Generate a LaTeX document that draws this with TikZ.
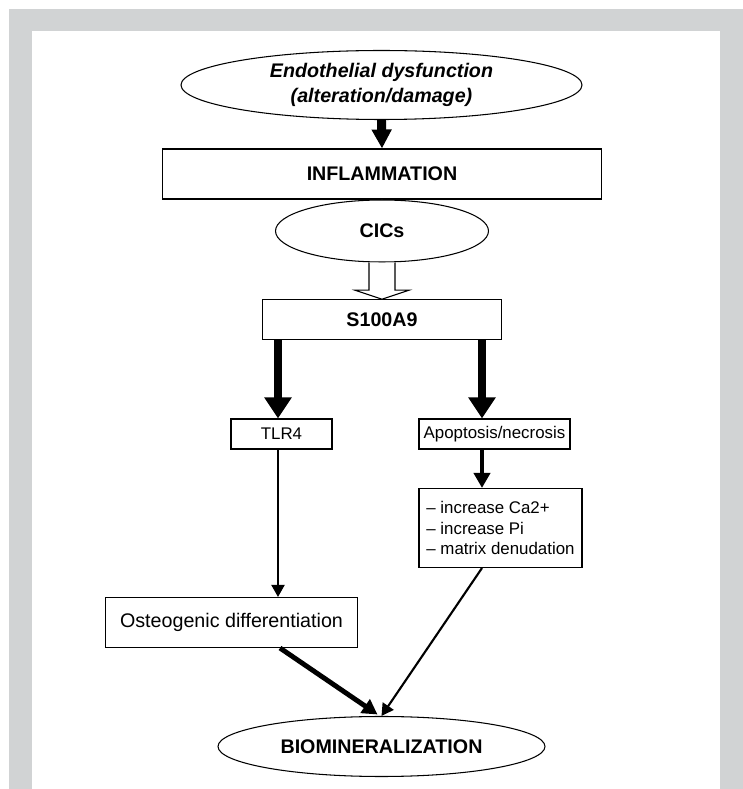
\documentclass[tikz,border=0pt]{standalone}
\usepackage{fontspec}
\setmainfont{Liberation Sans}
\usetikzlibrary{shapes,arrows.meta,calc}
\definecolor{framegray}{RGB}{209,211,212}

\tikzstyle{block} = [draw, line width=0.6pt, fill=white, rectangle, inner sep=0pt,
    font=\fontsize{11.2}{13.4}\selectfont\bfseries]
\tikzstyle{plainblock} = [draw, line width=0.6pt, fill=white, rectangle, inner sep=0pt,
    font=\fontsize{11.2}{13.4}\selectfont]
\tikzstyle{smallblock} = [draw, line width=0.6pt, fill=white, rectangle, inner sep=0pt,
    minimum height=0.6cm, font=\fontsize{9.6}{11.65}\selectfont]
\tikzstyle{oval} = [draw, line width=0.6pt, fill=white, ellipse, inner sep=0pt,
    align=center, font=\fontsize{11.2}{14.2}\selectfont\bfseries]
\tikzstyle{toparrow} = [line width=5.1pt, -{Triangle[width=0.38cm,length=0.38cm]}]
\tikzstyle{bigarrow} = [line width=4.5pt, -{Triangle[width=0.52cm,length=0.42cm]}]
\tikzstyle{midarrow} = [line width=2.8pt, -{Triangle[width=0.32cm,length=0.3cm]}]
\tikzstyle{slimarrow} = [line width=1.2pt, -{Triangle[width=0.26cm,length=0.24cm]}]

\begin{document}
\begin{tikzpicture}
% frame
\fill[white] (0,0) rectangle (14.86,15.78);
\fill[framegray] (0.18,0) rectangle (14.86,15.6);
\fill[white] (0.634,0) rectangle (14.4,15.16);

\coordinate (lx) at (5.56,0);
\coordinate (rx) at (9.64,0);
\coordinate (ox) at (5.6,0);

\node[oval, name=endo, minimum width=8.02cm, minimum height=1.38cm] at (7.63,14.08)
  {\itshape Endothelial dysfunction\\\itshape (alteration/damage)};
\node[block, name=inflam, minimum width=8.77cm, minimum height=1.0cm] at (7.64,12.3) {INFLAMMATION};
\node[oval, name=cics, minimum width=4.26cm, minimum height=1.24cm] at (7.64,11.16) {CICs};
\node[block, name=s100, minimum width=4.77cm, minimum height=0.79cm] at (7.64,9.39) {S100A9};

\node[smallblock, name=tlr4, minimum width=2.02cm] at (5.63,7.1) {TLR4};
\node[smallblock, name=apop, minimum width=3.02cm] at (9.89,7.1) {Apoptosis/necrosis};
\node[smallblock, name=list, minimum width=3.26cm, minimum height=1.58cm, align=left] at (10.01,5.22)
  {– increase Ca2+\\– increase Pi\\– matrix denudation};

\node[plainblock, name=osteo, minimum width=5.03cm, minimum height=1.0cm] at (4.63,3.33) {Osteogenic differentiation};
\node[oval, name=bio, minimum width=6.54cm, minimum height=1.2cm] at (7.63,0.85) {BIOMINERALIZATION};

% arrows
\draw[toparrow] (endo.south) -- (inflam.north);
\draw[line width=0.6pt, fill=white] ($(cics.south)+(-0.26,0)$) -- ($(s100.north)+(-0.26,0.18)$)
  -- ($(s100.north)+(-0.54,0.18)$) -- (s100.north) -- ($(s100.north)+(0.54,0.18)$)
  -- ($(s100.north)+(0.26,0.18)$) -- ($(cics.south)+(0.26,0)$);
\draw[bigarrow] (s100.south -| lx) -- (tlr4.north -| lx);
\draw[bigarrow] (s100.south -| rx) -- (apop.north -| rx);
\draw[midarrow] (apop.south -| rx) -- (list.north -| rx);
\draw[slimarrow] (tlr4.south -| lx) -- (osteo.north -| lx);
\draw[midarrow] (osteo.south -| ox) -- ($(bio.north)+(-0.08,0.03)$);
\draw[slimarrow] (list.south -| rx) -- (bio.north);

\end{tikzpicture}
\end{document}
